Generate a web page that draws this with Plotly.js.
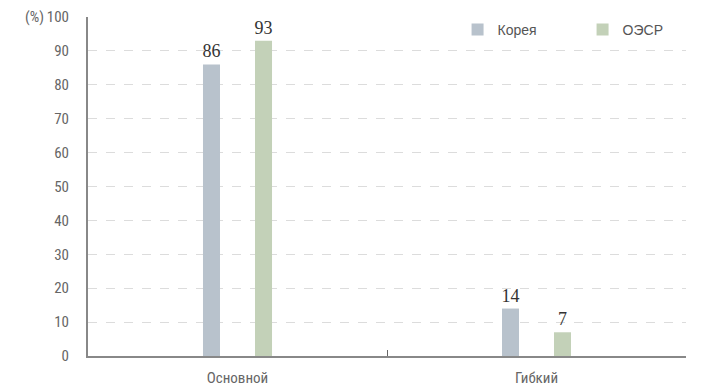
<!DOCTYPE html>
<html><head><meta charset="utf-8">
<script src="https://cdn.plot.ly/plotly-3.0.1.min.js"></script>
<style>html,body{margin:0;padding:0;background:#fff}#chart{width:721px;height:387px}</style>
</head><body><div id="chart"></div>
<script>
const categories = ["Основной", "Гибкий"];
const koreaValues = [86, 14];
const oecdValues = [93, 7];
const seriesNames = ["Корея", "ОЭСР"];
const yTicks = [0,10,20,30,40,50,60,70,80,90,100];

const valueFont = {family: "Liberation Serif, Times New Roman, serif", size: 18, color: "#333"};
const traces = [
  {type: "bar", name: seriesNames[0], x: categories, y: koreaValues, marker: {color: "#b8c2cc"},
   text: koreaValues.map(String), textposition: "outside", textfont: valueFont, constraintext: "none", cliponaxis: false, hoverinfo: "skip"},
  {type: "bar", name: seriesNames[1], x: categories, y: oecdValues, marker: {color: "#c3d1b8"},
   text: oecdValues.map(String), textposition: "outside", textfont: valueFont, constraintext: "none", cliponaxis: false, hoverinfo: "skip"}
];
const axisFont = {family: "Liberation Sans Narrow, Arial Narrow, Roboto Condensed, sans-serif", size: 15, color: "#666"};
const layout = {
  width: 721, height: 387,
  margin: {l: 88, r: 35, t: 17, b: 31, autoexpand: false},
  paper_bgcolor: "#fff", plot_bgcolor: "#fff",
  barmode: "group", bargap: 0.652, bargroupgap: 0.673,
  showlegend: true,
  legend: {orientation: "h", x: 0.618, xanchor: "left", y: 0.962, yanchor: "middle",
           font: {family: "Liberation Sans, Arial, sans-serif", size: 14, color: "#555"},
           entrywidth: 80, entrywidthmode: "pixels", itemwidth: 20, bgcolor: "rgba(0,0,0,0)"},
  xaxis: {type: "category", showline: true, linecolor: "#888", linewidth: 2,
          ticks: "inside", tickson: "boundaries", ticklen: 6, tickcolor: "#666", tickwidth: 1,
          showgrid: false, tickfont: axisFont, ticklabelstandoff: 7, fixedrange: true},
  yaxis: {range: [0, 100], tickvals: yTicks, ticktext: yTicks.map(String), showline: true, linecolor: "#888", linewidth: 2,
          ticks: "", showgrid: true, gridcolor: "#dcdcdc", griddash: "dash", gridwidth: 1, zeroline: false,
          tickfont: axisFont, ticklabelstandoff: 14, fixedrange: true},
  annotations: [{text: "(%)", xref: "paper", yref: "y", x: 0, y: 100, xanchor: "right", yanchor: "middle",
                 xshift: -42, showarrow: false, font: axisFont}]
};
Plotly.newPlot("chart", traces, layout, {displayModeBar: false, staticPlot: true});
</script></body></html>
